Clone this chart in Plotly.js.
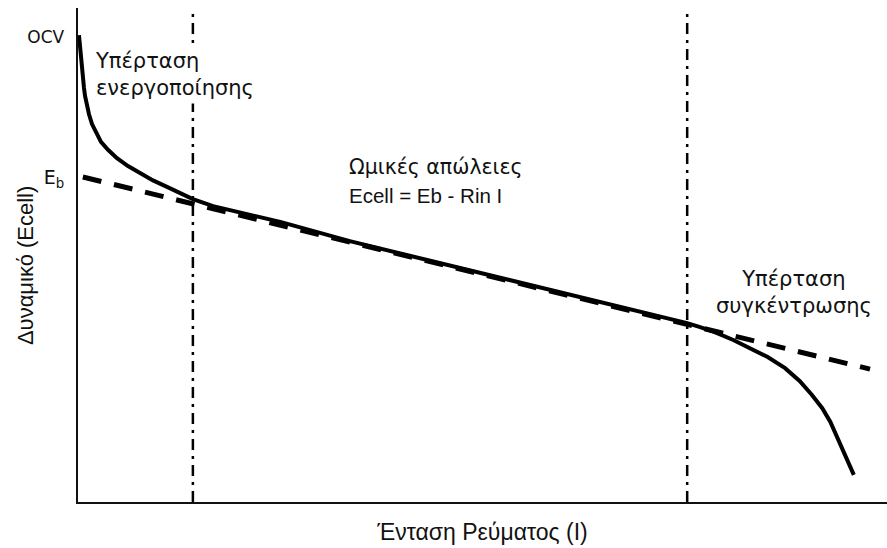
<!DOCTYPE html>
<html>
<head>
<meta charset="utf-8">
<script src="https://cdn.plot.ly/plotly-3.0.1.min.js"></script>
<style>html,body{margin:0;padding:0;background:#fff;}#chart{width:887px;height:548px;}</style>
</head>
<body>
<div id="chart"></div>
<script>
// Polarization curve (arbitrary units: current 0..100, potential 0..100)
const curveI = [0.12, 0.25, 0.37, 0.49, 0.62, 0.74, 0.87, 1.11, 1.36, 1.73, 2.22, 2.84, 3.71, 4.82, 6.18, 7.66, 9.27, 11.0, 12.6, 14.2, 16.7, 19.2, 21.6, 25.0, 33.6, 46.0, 58.3, 69.5, 75.3, 76.9, 78.7, 81.0, 83.1, 85.2, 87.4, 89.2, 90.7, 92.0, 93.0, 93.8, 94.8, 95.9];
const curveE = [94.5, 91.9, 89.5, 87.4, 85.4, 83.8, 82.2, 80.3, 78.5, 76.5, 74.7, 72.9, 71.3, 69.6, 68.0, 66.6, 65.1, 63.8, 62.6, 61.3, 59.9, 58.9, 57.9, 56.7, 52.8, 47.9, 42.9, 38.5, 36.2, 35.4, 34.4, 32.8, 31.2, 29.4, 27.1, 24.5, 21.7, 19.0, 16.2, 13.2, 9.7, 5.5];
// Ohmic line Ecell = Eb - Rin I
const ohmicI = [0.6, 97.9];
const ohmicE = [65.8, 26.9];
// Region boundaries
const regionBounds = [14.2, 75.3];
const boundE = [0, 100];
// Y tick labels
const yTickVals = [94.3, 65.8];
const yTickText = ['<span style="font-size:17px">OCV</span>', 'E<sub>b</sub>'];
// Labels
const labelTexts = ['Υπέρταση<br>ενεργοποίησης', 'Ωμικές απώλειες', 'Ecell = Eb - Rin I', 'Υπέρταση<br>συγκέντρωσης'];
const xTitle = 'Ένταση Ρεύματος (Ι)';
const yTitle = 'Δυναμικό (Ecell)';

const ARIAL = 'Liberation Sans, Arial, sans-serif';
const WIDE = 'DejaVu Sans, Verdana, sans-serif';

const traces = [];
regionBounds.forEach(b => {
  traces.push({x: [b, b], y: boundE, mode: 'lines', line: {color: '#000', width: 2.5, dash: '11px,6px,3px,6px'}, hoverinfo: 'skip', showlegend: false});
});
traces.push({x: ohmicI, y: ohmicE, mode: 'lines', line: {color: '#000', width: 5, dash: '19px,13px'}, showlegend: false});
traces.push({x: curveI, y: curveE, mode: 'lines', line: {color: '#000', width: 4, shape: 'linear'}, showlegend: false});

const layout = {
  width: 887, height: 548,
  margin: {l: 78, r: 0, t: 8, b: 46},
  paper_bgcolor: '#fff', plot_bgcolor: '#fff',
  font: {family: ARIAL, color: '#111'},
  showlegend: false,
  xaxis: {range: [0, 100], showgrid: false, zeroline: false, showticklabels: false, ticks: '',
          showline: true, linecolor: '#111', linewidth: 2,
          title: {text: xTitle, font: {size: 23, family: ARIAL, color: '#111'}, standoff: 21}},
  yaxis: {range: [0, 100], showgrid: false, zeroline: false, ticks: '',
          tickvals: yTickVals, ticktext: yTickText, tickfont: {size: 19, family: WIDE, color: '#111'},
          ticklabelstandoff: 8,
          showline: true, linecolor: '#111', linewidth: 2,
          title: {text: ''}},
  annotations: [
    {x: -0.064, y: 0.478, xref: 'paper', yref: 'paper', text: yTitle, textangle: -90, showarrow: false, xanchor: 'center', yanchor: 'middle', font: {size: 22, family: ARIAL, color: '#111'}},
    {x: 1.61, y: 86.6, xref: 'x', yref: 'y', text: labelTexts[0], showarrow: false, xanchor: 'left', yanchor: 'middle', align: 'left', bgcolor: '#fff', borderpad: 3, font: {size: 21, family: WIDE, color: '#111'}},
    {x: 44.2, y: 67.8, xref: 'x', yref: 'y', text: labelTexts[1], showarrow: false, xanchor: 'center', yanchor: 'middle', font: {size: 20.5, family: WIDE, color: '#111'}},
    {x: 42.9, y: 62.0, xref: 'x', yref: 'y', text: labelTexts[2], showarrow: false, xanchor: 'center', yanchor: 'middle', font: {size: 20.5, family: ARIAL, color: '#111'}},
    {x: 88.5, y: 42.5, xref: 'x', yref: 'y', text: labelTexts[3], showarrow: false, xanchor: 'center', yanchor: 'middle', align: 'center', font: {size: 21, family: WIDE, color: '#111'}}
  ]
};

Plotly.newPlot('chart', traces, layout, {displayModeBar: false, staticPlot: true});
</script>
</body>
</html>
